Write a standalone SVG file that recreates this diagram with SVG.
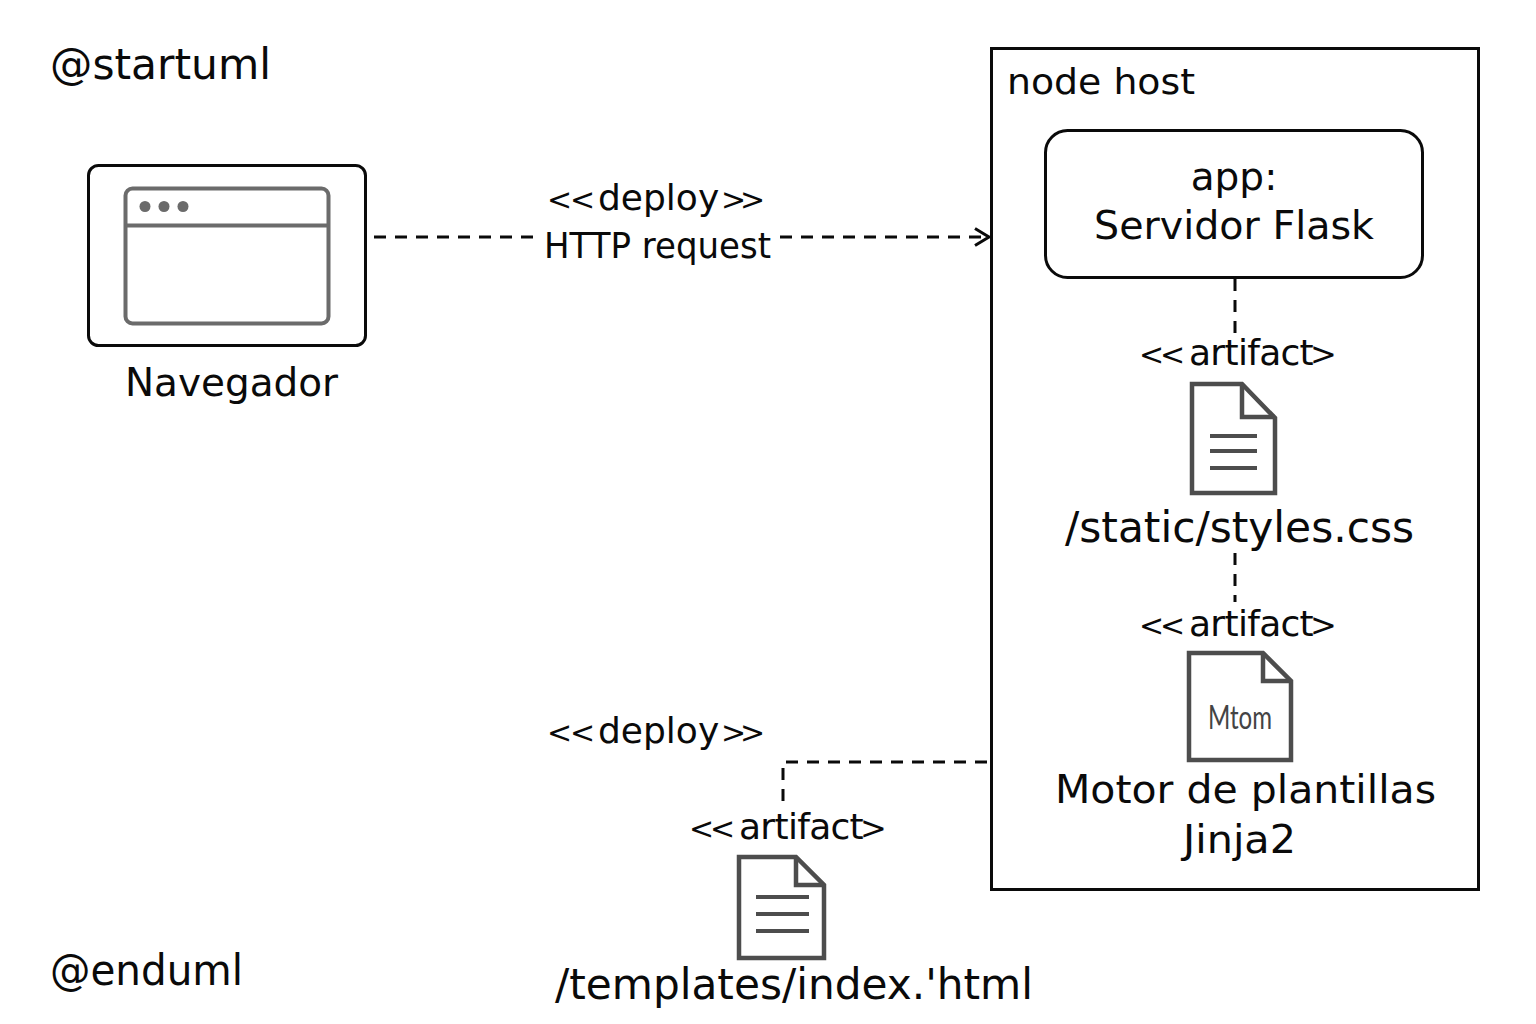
<svg xmlns="http://www.w3.org/2000/svg" width="1536" height="1024" viewBox="0 0 1536 1024">
<style>
text{font-family:"DejaVu Sans",sans-serif;fill:#0a0a0a;font-size:39px}
.m{text-anchor:middle}
.s{font-size:36px}
.b{font-size:42px}
.a{font-size:30px}
.g{font-size:32px}
.tight{letter-spacing:-.7px}
.box{fill:#fff;stroke:#0a0a0a;stroke-width:3}
.con{fill:none;stroke:#0a0a0a;stroke-width:3;stroke-dasharray:12 9}
.ic{fill:#fff;stroke:#4d4d4d;stroke-width:4.500}
.fold{fill:none;stroke:#4d4d4d;stroke-width:4.500}
.ln{fill:none;stroke:#4d4d4d;stroke-width:4}
.win{fill:none;stroke:#6b6b6b;stroke-width:4}
.dot{fill:#6b6b6b}
</style>
<rect width="1536" height="1024" fill="#fff"/>
<text id="start" class="b" x="50" y="79" textLength="221" lengthAdjust="spacingAndGlyphs">@startuml</text>
<text id="end" class="b" x="50" y="985" textLength="193" lengthAdjust="spacingAndGlyphs">@enduml</text>
<g id="navegador">
<rect class="box" x="88.500" y="165.500" width="277" height="180" rx="10"/>
<rect class="win" x="125.500" y="188.500" width="203" height="135" rx="7"/>
<path class="win" d="M125.500 225.500H328.500"/>
<circle class="dot" cx="145" cy="206.500" r="5.500"/>
<circle class="dot" cx="164" cy="206.500" r="5.500"/>
<circle class="dot" cx="183" cy="206.500" r="5.500"/>
<text x="125" y="396" textLength="213" lengthAdjust="spacingAndGlyphs">Navegador</text>
</g>
<g id="deploy-label-1">
<text class="s" y="210"><tspan class="a" x="547 570">&lt;&lt;</tspan><tspan x="598">deploy</tspan><tspan class="a" x="721 740">&gt;&gt;</tspan></text>
<text class="s" x="544" y="258" textLength="227" lengthAdjust="spacingAndGlyphs">HTTP request</text>
</g>
<g id="host">
<rect x="991.500" y="48.500" width="487" height="841" fill="none" stroke="#0a0a0a" stroke-width="3"/>
<text class="s" x="1007" y="94" textLength="188" lengthAdjust="spacingAndGlyphs">node host</text>
</g>
<g id="app">
<rect class="box" x="1045.500" y="130.500" width="377" height="147" rx="22"/>
<text class="m" x="1234" y="190">app:</text>
<text x="1094" y="239" textLength="280" lengthAdjust="spacingAndGlyphs">Servidor Flask</text>
</g>
<g id="styles">
<text class="s" y="365"><tspan class="a" x="1139 1160">&lt;&lt;</tspan><tspan class="tight" x="1189">artifact</tspan><tspan class="g" x="1310">&gt;</tspan></text>
<path class="ic" d="M1192 384H1242L1275 418V493H1192Z"/>
<path class="fold" d="M1242 384V417H1275"/>
<path class="ln" d="M1210 436H1257M1210 451H1257M1210 468H1257"/>
<text class="b" x="1065" y="542" textLength="349" lengthAdjust="spacingAndGlyphs">/static/styles.css</text>
</g>
<g id="jinja">
<text class="s" y="636"><tspan class="a" x="1139 1160">&lt;&lt;</tspan><tspan class="tight" x="1189">artifact</tspan><tspan class="g" x="1310">&gt;</tspan></text>
<path class="ic" d="M1189 653H1263L1291 681V760H1189Z"/>
<path class="fold" d="M1263 653V681H1291"/>
<text x="1208" y="729" style="font-family:Lato,sans-serif;font-size:33px;fill:#444" textLength="64" lengthAdjust="spacingAndGlyphs">Mtom</text>
<text x="1055" y="803" textLength="381" lengthAdjust="spacingAndGlyphs">Motor de plantillas</text>
<text x="1183" y="853" textLength="113" lengthAdjust="spacingAndGlyphs">Jinja2</text>
</g>
<g id="deploy-label-2">
<text class="s" y="743"><tspan class="a" x="547 570">&lt;&lt;</tspan><tspan x="598">deploy</tspan><tspan class="a" x="721 740">&gt;&gt;</tspan></text>
</g>
<g id="index">
<text class="s" y="839"><tspan class="a" x="689 710">&lt;&lt;</tspan><tspan class="tight" x="739">artifact</tspan><tspan class="g" x="860">&gt;</tspan></text>
<path class="ic" d="M739 857H796L824 885V958H739Z"/>
<path class="fold" d="M796 857V885H824"/>
<path class="ln" d="M756 897H809M756 914H809M756 931H809"/>
<text class="b" x="555" y="999" textLength="478" lengthAdjust="spacingAndGlyphs">/templates/index.'html</text>
</g>
<g id="connectors">
<path class="con" d="M374 237H540"/>
<path class="con" d="M780 237H988"/>
<path d="M975 228.500L989 237L975 245.500" fill="none" stroke="#0a0a0a" stroke-width="3"/>
<path class="con" d="M1235 279V335"/>
<path class="con" d="M1235 553V602"/>
<path class="con" d="M987 762H783V804"/>
</g>
</svg>
